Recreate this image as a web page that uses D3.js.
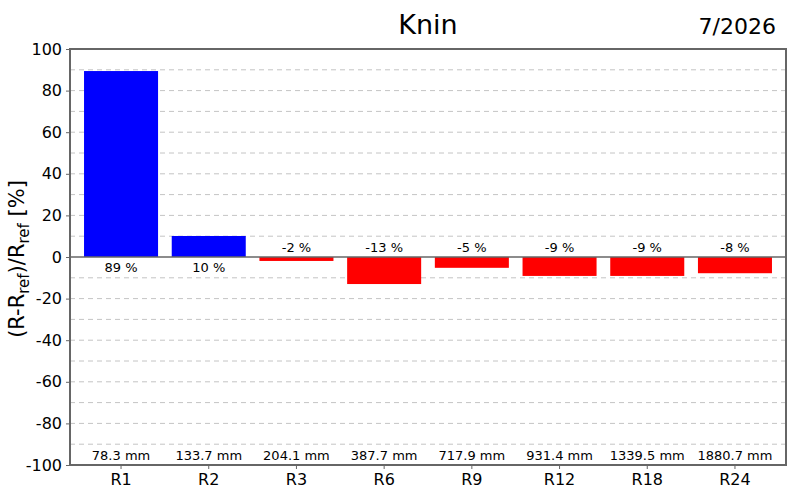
<!DOCTYPE html>
<html>
<head>
<meta charset="utf-8">
<script src="https://cdn.jsdelivr.net/npm/d3@7"></script>
<style>
  body { margin: 0; background: #fff; }
  text { font-family: "DejaVu Sans", sans-serif; }
</style>
</head>
<body>
<script>
// chart data
var categories = ["R1", "R2", "R3", "R6", "R9", "R12", "R18", "R24"]
var deviation = [89.4, 10.1, -1.9, -13.0, -5.2, -9.1, -9.1, -7.8]
var amounts = ["78.3 mm", "133.7 mm", "204.1 mm", "387.7 mm", "717.9 mm", "931.4 mm", "1339.5 mm", "1880.7 mm"]
var yTicks = [-100, -80, -60, -40, -20, 0, 20, 40, 60, 80, 100]
var gridTicks = [-90, -80, -70, -60, -50, -40, -30, -20, -10, 10, 20, 30, 40, 50, 60, 70, 80, 90]

var width = 800, height = 500
// plot box (note: "top" is reserved on window, so prefix these)
var plotLeft = 70, plotRight = 786, plotTop = 49, plotBottom = 465

var svg = d3.select("body").append("svg")
    .attr("width", width)
    .attr("height", height)

var x = d3.scaleBand(categories, [plotLeft, plotRight]).paddingInner(0.156).paddingOuter(0.16)
var y = d3.scaleLinear([-100, 100], [plotBottom, plotTop])

// dashed grid
svg.selectAll(".grid")
    .data(gridTicks)
    .join("line")
    .attr("class", "grid")
    .attr("x1", plotLeft).attr("x2", plotRight)
    .attr("y1", d => y(d)).attr("y2", d => y(d))
    .attr("stroke", "#c4c4c4")
    .attr("stroke-width", 1)
    .attr("stroke-dasharray", "5,4")

// bars
svg.selectAll(".bar")
    .data(deviation)
    .join("rect")
    .attr("class", "bar")
    .attr("x", (d, i) => x(categories[i]))
    .attr("width", x.bandwidth())
    .attr("y", d => y(Math.max(d, 0)))
    .attr("height", d => Math.abs(y(d) - y(0)))
    .attr("fill", d => d >= 0 ? "#0000ff" : "#ff0000")

// zero line
svg.append("line")
    .attr("x1", plotLeft).attr("x2", plotRight)
    .attr("y1", y(0)).attr("y2", y(0))
    .attr("stroke", "#666").attr("stroke-width", 1.5)

// percent labels
svg.selectAll(".pct")
    .data(deviation)
    .join("text")
    .attr("class", "pct")
    .attr("x", (d, i) => x(categories[i]) + x.bandwidth() / 2)
    .attr("y", d => d >= 0 ? y(0) + 15 : y(0) - 5)
    .attr("text-anchor", "middle")
    .attr("font-size", 13)
    .text(d => Math.round(d) + " %")

// amount labels
svg.selectAll(".amt")
    .data(amounts)
    .join("text")
    .attr("class", "amt")
    .attr("x", (d, i) => x(categories[i]) + x.bandwidth() / 2)
    .attr("y", plotBottom - 5)
    .attr("text-anchor", "middle")
    .attr("font-size", 13)
    .text(d => d)

// axes (plain hyphen for negatives, like the original)
var yAxis = svg.append("g")
    .attr("transform", `translate(${plotLeft},0)`)
    .call(d3.axisLeft(y).tickValues(yTicks).tickFormat(d => String(d)).tickSize(4).tickPadding(4))
yAxis.select(".domain").remove()
yAxis.selectAll("line").attr("stroke", "#666")
yAxis.selectAll("text").attr("font-size", 16).attr("fill", "#000").attr("font-family", "DejaVu Sans")

var xAxis = svg.append("g")
    .attr("transform", `translate(0,${plotBottom})`)
    .call(d3.axisBottom(x).tickSize(4).tickPadding(5))
xAxis.select(".domain").remove()
xAxis.selectAll("line").attr("stroke", "#666")
xAxis.selectAll("text").attr("font-size", 16).attr("fill", "#000").attr("font-family", "DejaVu Sans")

// frame
svg.append("rect")
    .attr("x", plotLeft).attr("y", plotTop)
    .attr("width", plotRight - plotLeft).attr("height", plotBottom - plotTop)
    .attr("fill", "none")
    .attr("stroke", "#666")
    .attr("stroke-width", 2)

// titles
svg.append("text")
    .attr("x", 428).attr("y", 34)
    .attr("text-anchor", "middle")
    .attr("font-size", 27)
    .text("Knin")

svg.append("text")
    .attr("x", 776).attr("y", 34)
    .attr("text-anchor", "end")
    .attr("font-size", 22)
    .text("7/2026")

// y label with subscripts
var ylab = svg.append("text")
    .attr("transform", `translate(24,${y(0) + 2}) rotate(-90)`)
    .attr("text-anchor", "middle")
    .attr("font-size", 21)
ylab.append("tspan").text("(R-R")
ylab.append("tspan").attr("baseline-shift", "-30%").attr("font-size", 15).text("ref")
ylab.append("tspan").text(")/R")
ylab.append("tspan").attr("baseline-shift", "-30%").attr("font-size", 15).text("ref")
ylab.append("tspan").text(" [%]")
</script>
</body>
</html>
